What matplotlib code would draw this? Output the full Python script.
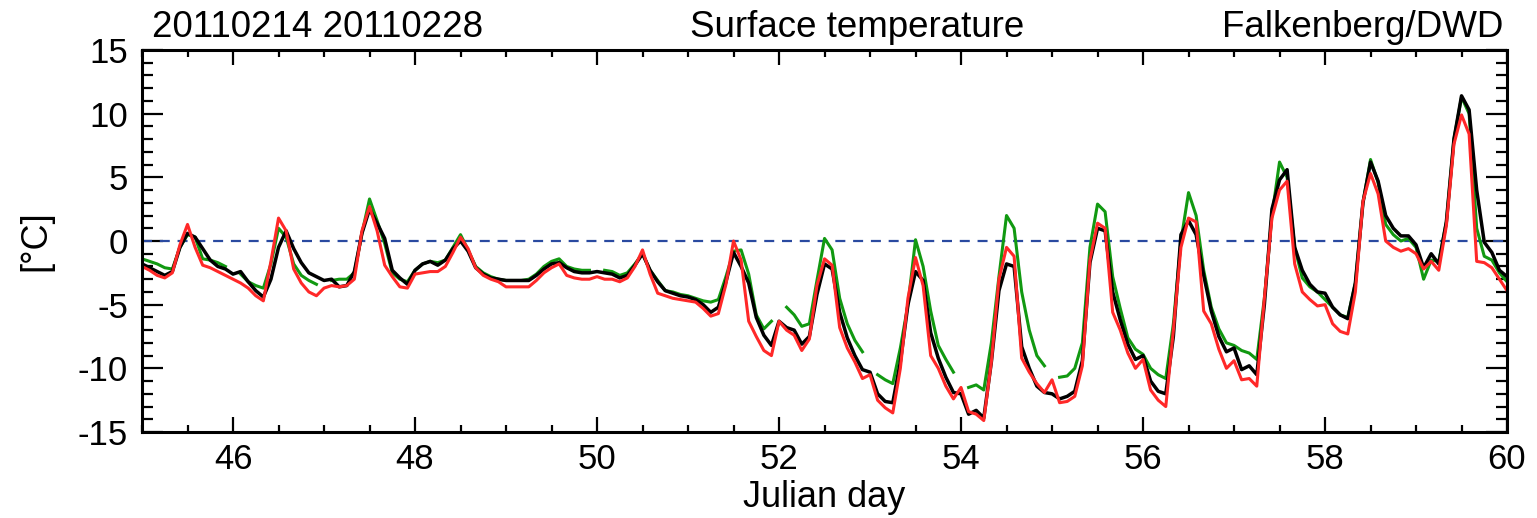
import numpy as np
import matplotlib
matplotlib.use("Agg")
import matplotlib.pyplot as plt
from matplotlib.ticker import MultipleLocator

plt.rcParams['font.family'] = ['Liberation Sans', 'DejaVu Sans']
plt.rcParams['axes.unicode_minus'] = False

nan = np.nan

# 2-hourly samples, 12 per day from day 45 to 59, plus the end point at day 60
black = [
    -1.8, -2.1, -2.4, -2.7, -2.4, -0.5, 0.6, 0.3, -0.6, -1.5, -2.0, -2.2,        # 45
    -2.6, -2.4, -3.2, -3.9, -4.4, -3.0, -0.5, 0.8, -0.6, -1.7, -2.5, -2.8,       # 46
    -3.1, -3.0, -3.6, -3.5, -2.4, 0.6, 2.5, 1.4, 0.2, -2.3, -2.9, -3.4,          # 47
    -2.3, -1.8, -1.6, -1.9, -1.5, -0.6, 0.0, -0.8, -2.1, -2.6, -2.9, -3.0,       # 48
    -3.1, -3.1, -3.1, -3.1, -2.7, -2.2, -1.8, -1.7, -2.1, -2.4, -2.5, -2.5,      # 49
    -2.4, -2.5, -2.6, -2.9, -2.7, -1.9, -1.0, -2.3, -3.2, -3.9, -4.1, -4.3,      # 50
    -4.4, -4.6, -5.0, -5.6, -5.2, -3.2, -0.9, -2.0, -3.3, -6.0, -7.4, -8.2,      # 51
    -6.3, -6.8, -7.0, -8.1, -7.5, -4.2, -1.8, -2.2, -5.6, -7.6, -9.0, -10.1,     # 52
    -10.3, -12.0, -12.6, -12.7, -9.5, -5.0, -2.4, -3.1, -7.2, -9.2, -10.7, -11.9,  # 53
    -12.0, -13.6, -13.3, -13.9, -9.5, -3.9, -1.8, -2.0, -8.3, -10.0, -11.4, -11.9,  # 54
    -12.0, -12.4, -12.2, -11.8, -9.4, -1.7, 1.0, 0.8, -4.0, -6.2, -8.1, -9.3,    # 55
    -9.0, -11.0, -11.8, -12.0, -7.5, 0.5, 1.6, 0.5, -2.7, -5.5, -7.5, -8.7,      # 56
    -8.4, -10.1, -9.8, -10.5, -5.0, 2.5, 4.8, 5.6, -0.5, -2.3, -3.4, -4.0,       # 57
    -4.1, -5.2, -5.8, -6.1, -3.3, 3.0, 6.2, 4.7, 2.0, 1.0, 0.4, 0.4,             # 58
    -0.3, -2.1, -1.0, -1.8, 1.5, 8.0, 11.4, 10.3, 4.0, -0.1, -0.9, -2.3,         # 59
    -2.8,
]

red = [
    -2.0, -2.3, -2.7, -2.9, -2.5, -0.3, 1.3, -0.5, -1.9, -2.1, -2.4, -2.7,
    -3.0, -3.3, -3.7, -4.3, -4.7, -1.6, 1.8, 0.8, -2.2, -3.3, -4.0, -4.3,
    -3.7, -3.5, -3.6, -3.5, -3.0, 0.8, 2.7, 0.8, -1.9, -2.8, -3.6, -3.7,
    -2.6, -2.5, -2.4, -2.4, -2.0, -0.9, 0.3, -0.6, -2.1, -2.7, -3.0, -3.2,
    -3.6, -3.6, -3.6, -3.6, -3.1, -2.5, -2.1, -1.8, -2.7, -2.9, -3.0, -3.0,
    -2.8, -3.0, -3.0, -3.2, -2.9, -2.0, -0.7, -2.6, -4.1, -4.3, -4.5, -4.6,
    -4.7, -4.8, -5.3, -5.9, -5.7, -3.4, 0.0, -1.5, -6.3, -7.5, -8.6, -9.0,
    -6.3, -7.0, -7.4, -8.6, -7.7, -3.5, -1.4, -1.9, -6.8, -8.4, -9.5, -10.8,
    -10.5, -12.5, -13.1, -13.5, -10.0, -4.5, -1.3, -3.5, -9.0, -10.0, -11.4, -12.4,
    -11.5, -13.4, -13.6, -14.1, -9.5, -3.0, -0.5, -1.2, -9.2, -10.3, -11.2, -11.9,
    -10.9, -12.7, -12.6, -12.2, -9.8, -1.5, 1.4, 1.0, -5.6, -7.0, -8.8, -10.0,
    -9.3, -11.7, -12.5, -13.0, -7.0, -0.5, 1.8, 1.5, -5.5, -6.5, -8.5, -10.0,
    -9.4, -10.9, -10.8, -11.4, -4.5, 1.8, 4.0, 4.7, -1.8, -4.0, -4.6, -5.1,
    -5.0, -6.5, -7.1, -7.3, -4.0, 3.1, 5.3, 3.7, 0.0, -0.5, -0.8, -0.6,
    -1.0, -2.2, -1.6, -2.3, 1.2, 7.6, 9.9, 8.4, -1.6, -1.7, -2.1, -3.0,
    -3.9,
]

green = [
    -1.4, -1.6, -1.8, -2.1, -2.2, -0.5, 0.5, 0.3, -1.4, -1.5, -1.7, -2.0,
    nan, -2.6, -3.2, -3.5, -3.7, -1.8, 1.0, 0.3, -1.8, -2.7, -3.1, -3.4,
    nan, -3.1, -3.0, -3.0, -2.5, 0.6, 3.3, 1.6, -0.2, -2.5, -3.0, -3.2,
    -2.3, -1.8, -1.6, -1.7, -1.5, -0.5, 0.5, -0.7, -2.0, -2.5, -2.8, -3.0,
    -3.1, -3.1, -3.1, -3.0, -2.6, -2.0, -1.6, -1.4, -2.0, -2.2, -2.3, -2.3,
    nan, -2.3, -2.4, -2.7, -2.5, -1.8, -1.0, -2.3, -3.1, -3.9, -4.0, -4.2,
    -4.3, -4.5, -4.7, -4.8, -4.6, -2.8, -0.8, -0.7, -2.6, -5.8, -6.9, -6.3,
    nan, -5.2, -5.8, -6.7, -6.5, -3.1, 0.2, -0.7, -4.5, -6.5, -7.8, -8.7,
    nan, -10.5, -10.9, -11.2, -8.4, -5.0, 0.1, -2.0, -5.5, -8.2, -9.3, -10.3,
    nan, -11.5, -11.3, -11.7, -8.0, -2.8, 2.0, 1.0, -4.0, -7.0, -9.0, -9.8,
    nan, -10.7, -10.6, -10.0, -8.0, -0.5, 2.9, 2.3, -2.8, -5.3, -7.6, -8.5,
    -8.9, -10.0, -10.5, -10.8, -6.5, 0.0, 3.8, 2.0, -2.3, -5.2, -6.9, -8.0,
    -8.2, -8.6, -8.8, -9.3, -4.5, 2.0, 6.2, 5.0, -0.5, -2.9, -3.6, -4.0,
    -4.6, -5.2, -5.8, -6.0, -3.3, 3.0, 6.4, 4.6, 1.3, 0.5, 0.0, 0.2,
    -0.5, -3.0, -1.5, -1.6, 1.5, 8.0, 11.3, 10.0, 1.0, -1.2, -1.5, -2.5,
    -3.2,
]

day = 45 + np.arange(len(black)) * 2 / 24.0

fig = plt.figure(figsize=(15.37, 5.18), dpi=100)
ax = fig.add_axes([0.0924, 0.166, 0.8881, 0.7375])

ax.axhline(0, color='#2a4aa0', lw=1.6, dashes=(4.5, 3.5))
ax.plot(day, green, color='#119911', lw=2.2)
ax.plot(day, black, color='black', lw=2.5)
ax.plot(day, red, color='#ff2828', lw=2.2)

ax.set_xlim(45, 60)
ax.set_ylim(-15, 15)
ax.xaxis.set_major_locator(MultipleLocator(2))
ax.xaxis.set_minor_locator(MultipleLocator(0.5))
ax.yaxis.set_major_locator(MultipleLocator(5))
ax.yaxis.set_minor_locator(MultipleLocator(1))

ax.tick_params(axis='both', which='both', direction='in', top=True, right=True,
               width=1.6, labelsize=25)
ax.tick_params(axis='x', which='major', length=11, pad=8)
ax.tick_params(axis='x', which='minor', length=5)
ax.tick_params(axis='y', which='major', length=15, pad=10)
ax.tick_params(axis='y', which='minor', length=8)
for s in ax.spines.values():
    s.set_linewidth(2.2)

ax.set_xlabel('Julian day', fontsize=26, labelpad=3)
ax.set_ylabel('[°C]', fontsize=26, labelpad=18)

ax.text(0.007, 1.012, '20110214 20110228', transform=ax.transAxes, fontsize=26.5,
        ha='left', va='bottom')
ax.text(0.524, 1.012, 'Surface temperature', transform=ax.transAxes, fontsize=26.5,
        ha='center', va='bottom')
ax.text(0.997, 1.012, 'Falkenberg/DWD', transform=ax.transAxes, fontsize=26.5,
        ha='right', va='bottom')

fig.savefig('out.png', dpi=100)
